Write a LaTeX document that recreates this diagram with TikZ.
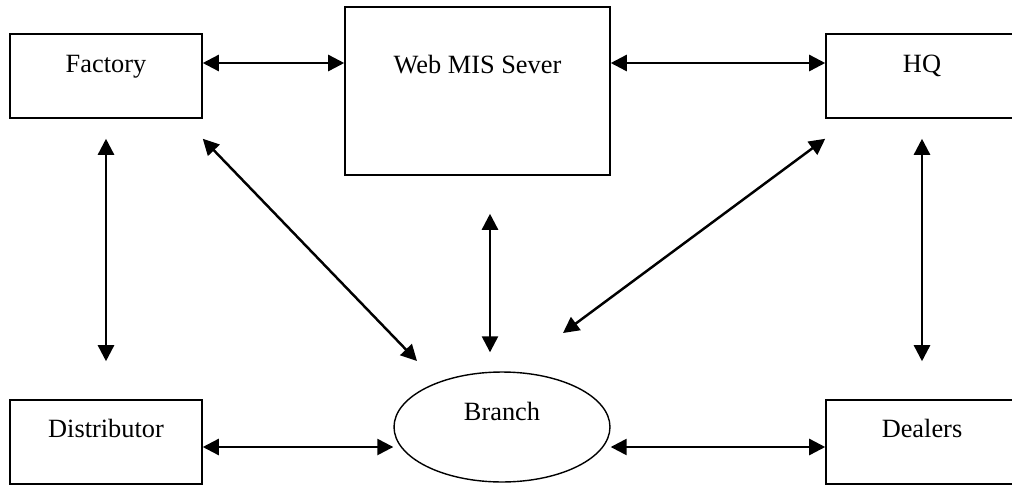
\documentclass[tikz,border=0pt]{standalone}
\usepackage{fontspec}
\setmainfont{Liberation Serif}
\usetikzlibrary{arrows.meta,shapes.geometric}
\begin{document}
\begin{tikzpicture}[x=0.02cm,y=-0.02cm,font=\fontsize{15}{18}\selectfont,
  box/.style={draw, line width=0.9pt, inner sep=0pt, minimum width=3.84cm, text height=0.76cm, text depth=0.92cm},
  lowbox/.style={box, text height=0.74cm, text depth=0.94cm},
  link/.style={line width=1.4pt, {Triangle[length=0.32cm,width=0.32cm]}-{Triangle[length=0.32cm,width=0.32cm]}}]
\useasboundingbox (0,0) rectangle (1012,484);
\node[box] (factory) at (106,76) {Factory};
\node[box, minimum width=5.3cm, text height=1.32cm, text depth=2.04cm] (web) at (477.5,91) {Web MIS Sever};
\node[box] (hq) at (922,76) {HQ};
\node[lowbox] (dist) at (106,442) {Distributor};
\node[draw, ellipse, line width=0.8pt, inner sep=0pt, minimum width=4.32cm, minimum height=2.2cm, text height=0.4cm, text depth=0.68cm] (branch) at (502,427) {Branch};
\node[lowbox] (dealers) at (922,442) {Dealers};
\path[draw,link] ([yshift=0.26cm]factory.east) -- ([yshift=0.26cm]factory.east -| web.west);
\path[draw,link] ([yshift=0.26cm]hq.west) -- ([yshift=0.26cm]hq.west -| web.east);
\path[draw,link,shorten <=0.4cm,shorten >=0.76cm] (factory.south) -- (dist.north);
\path[draw,link,shorten <=0.4cm,shorten >=0.76cm] (hq.south) -- (dealers.north);
\path[draw,link,shorten <=0.76cm,shorten >=0.38cm] ([xshift=0.25cm]web.south) -- ([xshift=0.25cm]web.south |- branch.north);
\path[draw,link] ([yshift=-0.4cm]factory.south east) -- ([xshift=-1.7cm,yshift=1.32cm]branch.center);
\path[draw,link] ([yshift=-0.4cm]hq.south west) -- ([xshift=1.22cm,yshift=1.88cm]branch.center);
\path[draw,link] ([yshift=-0.1cm]dist.east) -- ([yshift=-0.1cm]dist.east -| branch.west);
\path[draw,link] ([yshift=-0.1cm]dealers.west) -- ([yshift=-0.1cm]dealers.west -| branch.east);
\end{tikzpicture}
\end{document}
